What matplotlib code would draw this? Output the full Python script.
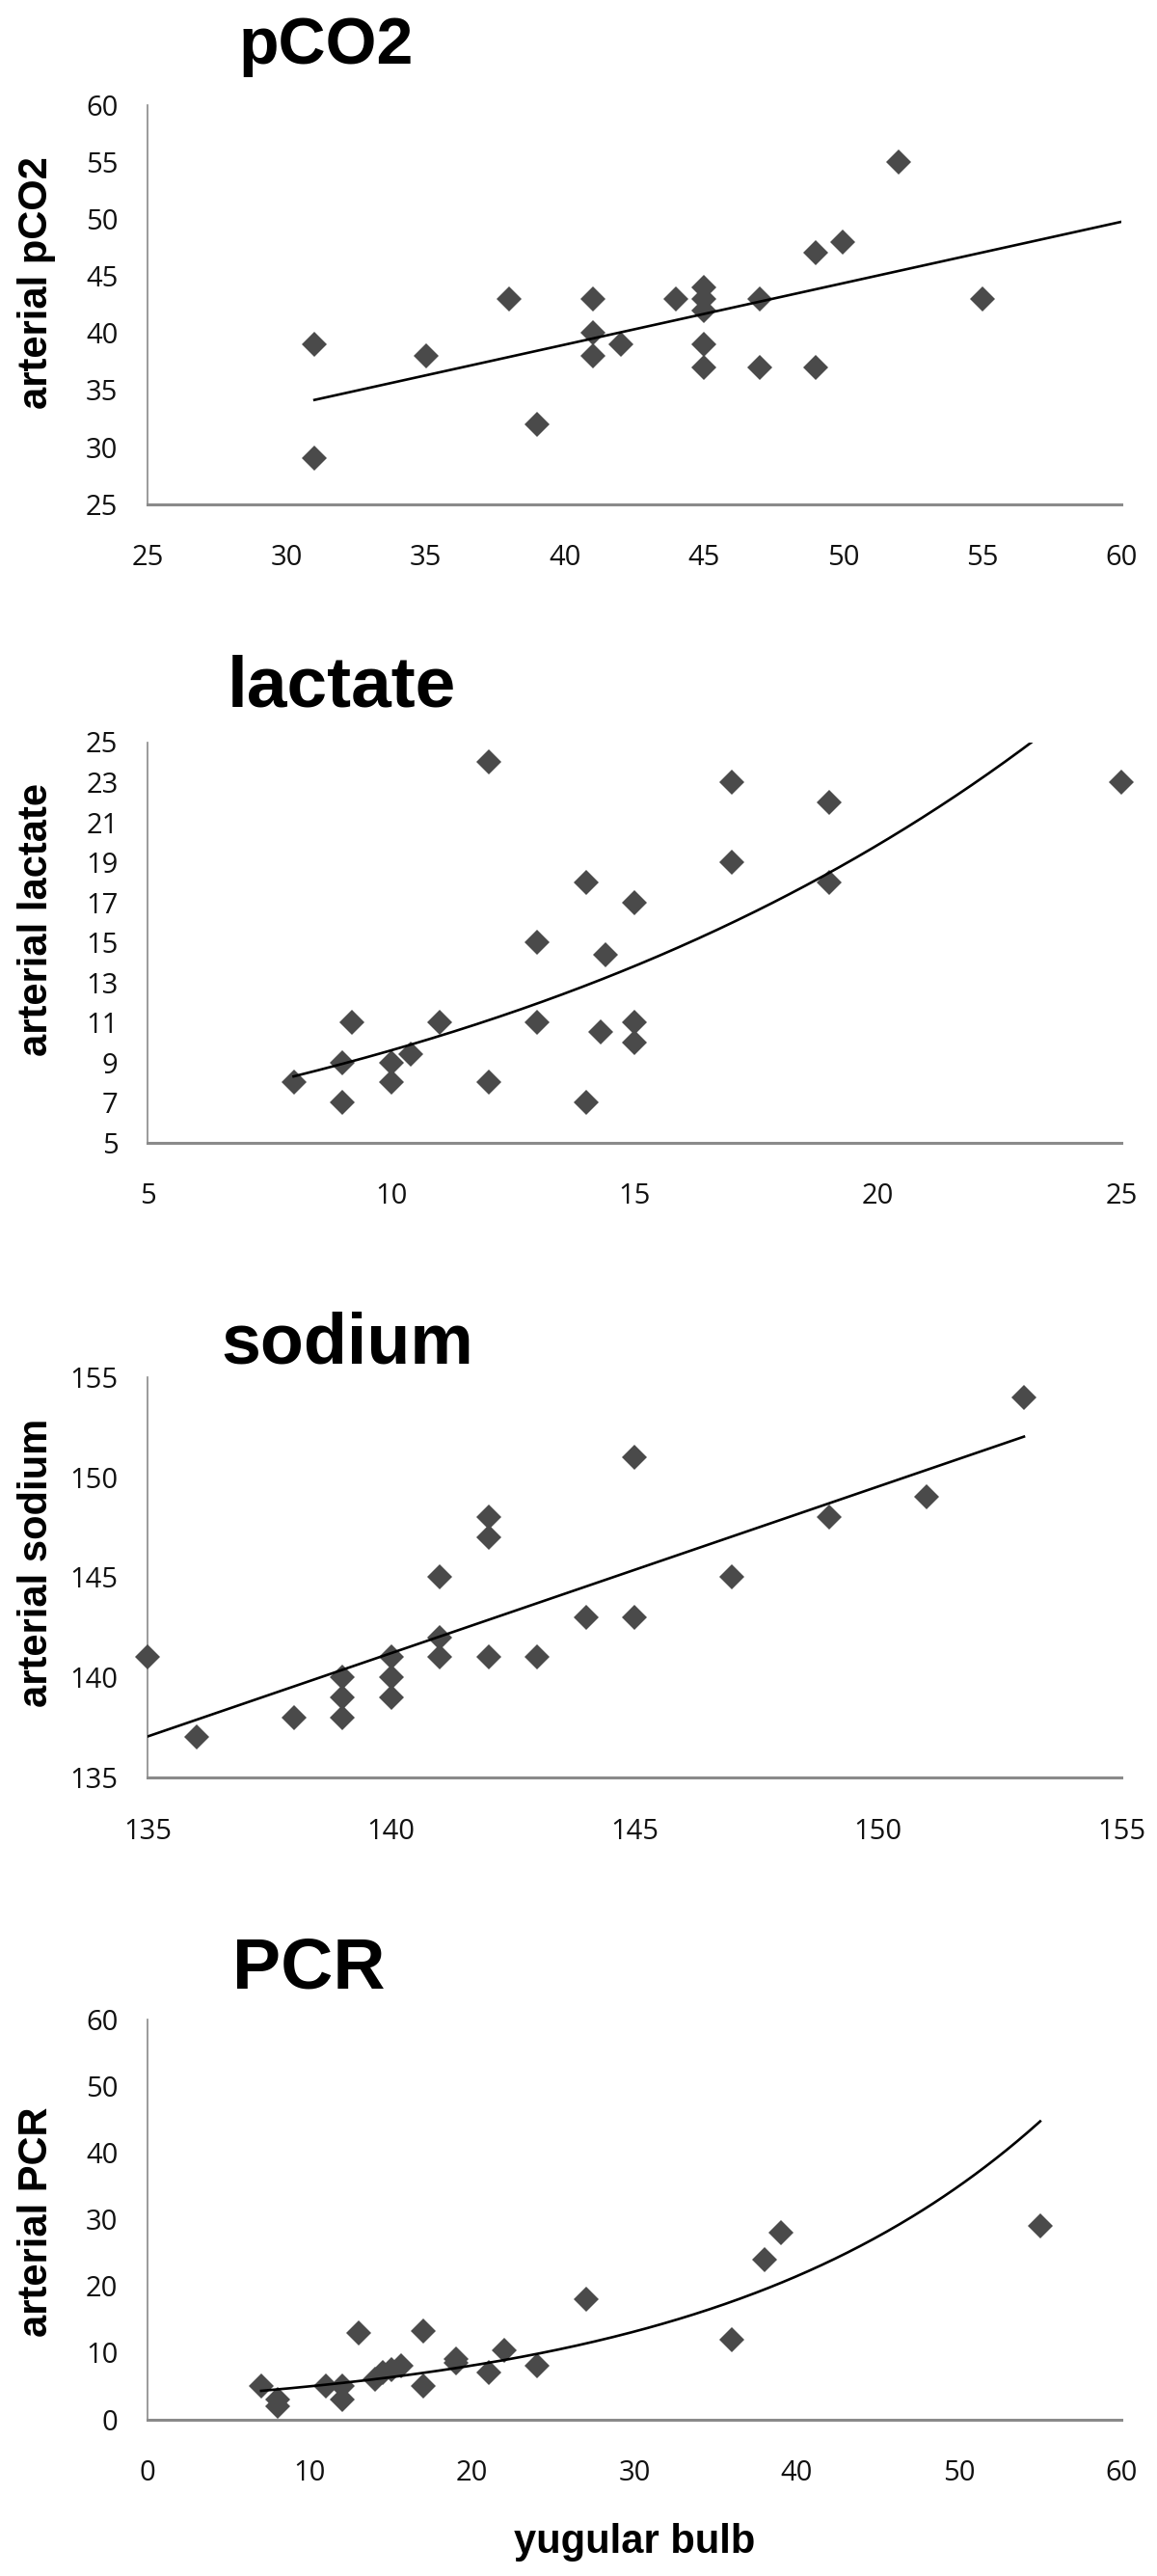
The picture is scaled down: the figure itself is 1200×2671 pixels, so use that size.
import numpy as np
import matplotlib
matplotlib.use("Agg")
import matplotlib.pyplot as plt

# ---------------- data ----------------
pco2_x = [31, 31, 35, 38, 39, 41, 41, 41, 42, 44, 45, 45, 45, 45, 45, 47, 47, 49, 49, 50, 52, 55]
pco2_y = [39, 29, 38, 43, 32, 43, 40, 38, 39, 43, 44, 43, 42, 39, 37, 43, 37, 47, 37, 48, 55, 43]

lact_x = [8, 9, 9, 9.2, 10, 10, 10.4, 11, 12, 12, 13, 13, 14, 14, 14.3, 14.4, 15, 15, 15, 17, 17, 19, 19, 25]
lact_y = [8, 9, 7, 11, 9, 8, 9.4, 11, 24, 8, 15, 11, 18, 7, 10.5, 14.4, 17, 11, 10, 23, 19, 22, 18, 23]

na_x = [135, 136, 138, 139, 139, 139, 140, 140, 140, 141, 141, 141, 142, 142, 142, 143, 144, 145, 145, 147, 149, 151, 153]
na_y = [141, 137, 138, 140, 139, 138, 141, 140, 139, 145, 142, 141, 148, 147, 141, 141, 143, 151, 143, 145, 148, 149, 154]

pcr_x = [7, 8, 8, 11, 12, 12, 13, 14, 14.5, 15, 15.6, 17, 17, 19, 19, 21, 22, 24, 27, 36, 38, 39, 55]
pcr_y = [5, 3, 2, 5, 5, 3, 13, 6, 7, 7.5, 8, 13.3, 5, 9, 8.5, 7, 10.4, 8, 18, 12, 24, 28, 29]

titles = ["pCO2", "lactate", "sodium", "PCR"]
ylabels = ["arterial pCO2", "arterial lactate", "arterial sodium", "arterial PCR"]
xlabel = "yugular bulb"

xlims = [(25, 60), (5, 25), (135, 155), (0, 60)]
ylims = [(25, 60), (5, 25), (135, 155), (0, 60)]
xsteps = [5, 5, 5, 10]
ysteps = [5, 2, 5, 10]
fit_kind = ["linear", "exp", "linear", "exp"]
trend_end = [60, 25, 153, 55]

# ---------------- layout (pixels of the 1200x2671 image) ----------------
W, H = 1200, 2671
fig = plt.figure(figsize=(W / 100, H / 100), dpi=100)
fig.patch.set_facecolor("white")

def fx(x):
    return x / W

def fy(y):
    return 1 - y / H

ax_left, ax_right = 153, 1163
ax_tops = [108.7, 769.5, 1427.8, 2094]
ax_bots = [522.7, 1184.6, 1843, 2508.6]
title_pos = [(338, 66, 49), (354, 733, 54), (360, 1414, 53), (320, 2062, 54)]
ylabel_pos = [(38, 293), (38, 954), (38, 1620), (38, 2304)]

data = [(pco2_x, pco2_y), (lact_x, lact_y), (na_x, na_y), (pcr_x, pcr_y)]

TICK_FONT = "Open Sans"
BOLD_FONT = "Liberation Sans"
spine_col = "#8a8a8a"
marker_col = "#4a4a4a"

for i in range(4):
    x, y = np.array(data[i][0], float), np.array(data[i][1], float)
    ax = fig.add_axes([fx(ax_left), fy(ax_bots[i]), (ax_right - ax_left) / W,
                       (ax_bots[i] - ax_tops[i]) / H])
    ax.set_facecolor("white")
    for s in ["top", "right"]:
        ax.spines[s].set_visible(False)
    ax.spines["left"].set_color(spine_col)
    ax.spines["left"].set_linewidth(1.2)
    ax.spines["bottom"].set_color(spine_col)
    ax.spines["bottom"].set_linewidth(2.2)

    ax.set_xlim(*xlims[i])
    ax.set_ylim(*ylims[i])
    ax.set_xticks(np.arange(xlims[i][0], xlims[i][1] + 0.1, xsteps[i]))
    ax.set_yticks(np.arange(ylims[i][0], ylims[i][1] + 0.1, ysteps[i]))
    ax.tick_params(axis="both", length=0, labelsize=21, colors="#111111")
    ax.tick_params(axis="y", pad=22)
    ax.tick_params(axis="x", pad=30)
    for lab in ax.get_xticklabels() + ax.get_yticklabels():
        lab.set_fontfamily(TICK_FONT)

    # trendline (least squares, as the spreadsheet does)
    xt = np.linspace(x.min(), trend_end[i], 300)
    if fit_kind[i] == "linear":
        b, a = np.polyfit(x, y, 1)
        yt = a + b * xt
    else:
        b, lna = np.polyfit(x, np.log(y), 1)
        yt = np.exp(lna) * np.exp(b * xt)
    ax.plot(xt, yt, color="black", lw=1.9, zorder=4)

    ax.plot(x, y, linestyle="none", marker="D", markersize=13,
            color=marker_col, markeredgewidth=0, zorder=3, clip_on=False)

    tx, ty, ts = title_pos[i]
    fig.text(fx(tx), fy(ty), titles[i], ha="center", va="baseline",
             fontsize=ts, fontweight="bold", family=BOLD_FONT, color="black")
    lx, ly = ylabel_pos[i]
    fig.text(fx(lx), fy(ly), ylabels[i], ha="center", va="center", rotation=90,
             fontsize=30, fontweight="bold", family=BOLD_FONT, color="black")

fig.text(fx(658), fy(2647), xlabel, ha="center", va="baseline",
         fontsize=30, fontweight="bold", family=BOLD_FONT, color="black")

fig.savefig("out.png", dpi=100, facecolor="white")
